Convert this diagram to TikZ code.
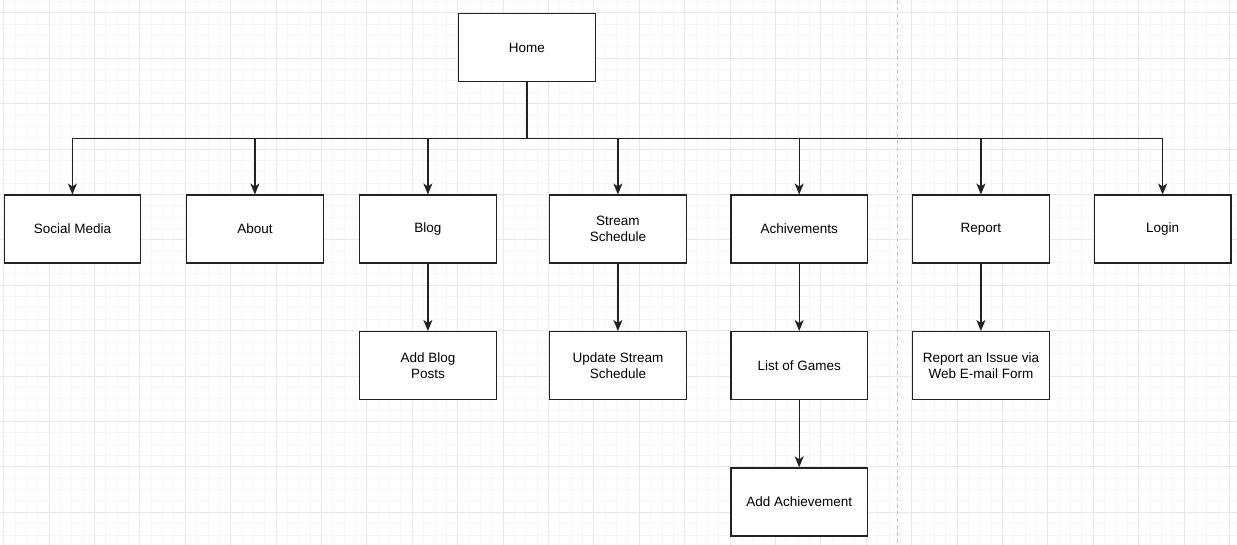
\documentclass[tikz,border=0pt]{standalone}
\usepackage{fontspec}
\setmainfont{Liberation Sans}
\usetikzlibrary{arrows.meta,calc}
\definecolor{minorg}{HTML}{F6F6F6}
\definecolor{majorg}{HTML}{E8E8E8}
\definecolor{boxline}{HTML}{222222}
\definecolor{dashg}{HTML}{C4C4C4}
\tikzset{
  minorgrid/.style={draw=minorg, line width=0.8pt},
  majorgrid/.style={draw=majorg, line width=0.9pt},
  pagebox/.style={draw=boxline, fill=white, line width=1.3pt, minimum width=136.5pt, minimum height=68pt, inner sep=0pt, align=center, font=\fontsize{13.5pt}{15.6pt}\selectfont, anchor=north west},
  link/.style={draw=boxline, line width=1.3pt},
  arr/.style={link, -{Stealth[length=11pt,width=9pt,inset=3pt]}},
}
\begin{document}
\begin{tikzpicture}[x=1pt,y=-1pt]
\useasboundingbox (0,0) rectangle (1237,545);
\fill[white] (0,0) rectangle (1237,545);
% grid
\foreach \i in {0,...,108} { \draw[minorgrid] ({3.6+11.35*\i},0) -- ++(0,545); }
\foreach \i in {-1,...,47} { \draw[minorgrid] (0,{12.8+11.35*\i}) -- ++(1237,0); }
\foreach \i in {0,...,27} { \draw[majorgrid] ({3.6+45.4*\i},0) -- ++(0,545); }
\foreach \i in {0,...,11} { \draw[majorgrid] (0,{12.8+45.4*\i}) -- ++(1237,0); }
% page divider
\draw[dashg, line width=1pt, dash pattern=on 4pt off 3pt] (897.7,0) -- (897.7,545);
% nodes
\node[pagebox] (home) at (458,13) {Home};
\node[pagebox] (social) at (3.5,194.5) {Social Media};
\node[pagebox] (about) at (186,194.5) {About};
\node[pagebox] (blog) at (359,194.5) {Blog};
\node[pagebox] (stream) at (549,194.5) {Stream\\Schedule};
\node[pagebox] (achiv) at (730.3,194.5) {Achivements};
\node[pagebox] (report) at (912,194.5) {Report};
\node[pagebox] (login) at (1093.7,194.5) {Login};
\node[pagebox] (addblog) at (359,331) {Add Blog\\Posts};
\node[pagebox] (updstream) at (549,331) {Update Stream\\Schedule};
\node[pagebox] (games) at (730.3,331) {List of Games};
\node[pagebox] (issue) at (912,331) {Report an Issue via\\Web E-mail Form};
\node[pagebox] (addach) at (730.3,467.3) {Add Achievement};
% connectors
\coordinate (bus) at ($(home.south)!0.5!(home.south |- blog.north)$);
\draw[link] (home.south) -- (bus);
\foreach \c in {social,about,blog,stream,achiv,report,login} {
  \draw[arr] (bus) -| (\c.north);
}
\draw[arr] (blog.south) -- (addblog.north);
\draw[arr] (stream.south) -- (updstream.north);
\draw[arr] (achiv.south) -- (games.north);
\draw[arr] (games.south) -- (addach.north);
\draw[arr] (report.south) -- (issue.north);
\end{tikzpicture}
\end{document}
